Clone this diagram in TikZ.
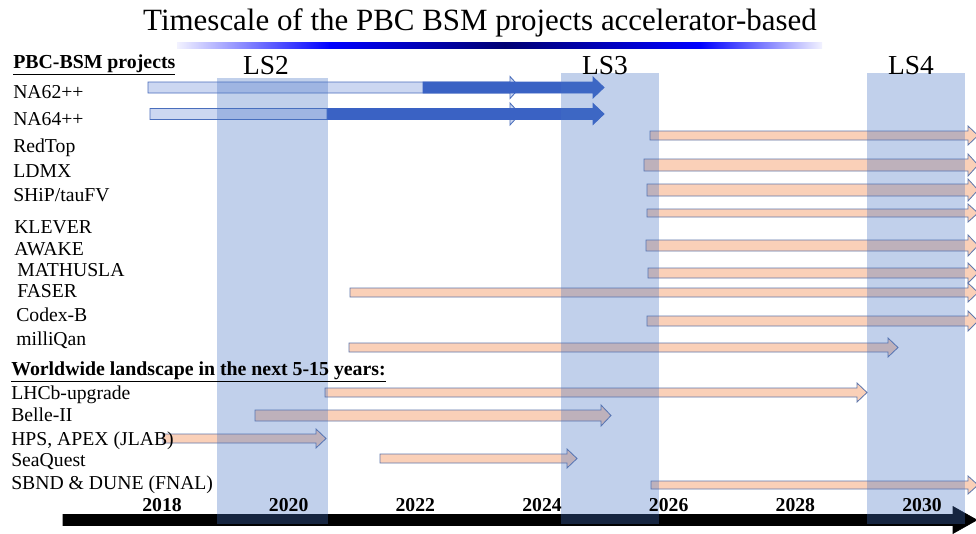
\documentclass[tikz,border=0pt]{standalone}
\usepackage{fontspec}
\setmainfont{Liberation Serif}
\usepackage{tikz}

\definecolor{bandblue}{RGB}{68,114,196}
\definecolor{peach}{RGB}{250,208,184}
\definecolor{peachline}{RGB}{98,120,172}
\definecolor{nalight}{RGB}{204,215,241}
\definecolor{nadark}{RGB}{58,98,196}
\definecolor{naline}{RGB}{74,110,188}
\definecolor{barnavy}{RGB}{0,0,115}

% block arrow: style, start x, tip x, y, half shaft, half head, head length
\newcommand{\barrow}[7][]{%
  \draw[#1] ({#2},{#4-(#5)}) -- ({#3-(#7)},{#4-(#5)}) -- ({#3-(#7)},{#4-(#6)}) -- ({#3},{#4})
    -- ({#3-(#7)},{#4+(#6)}) -- ({#3-(#7)},{#4+(#5)}) -- ({#2},{#4+(#5)}) -- cycle;}

\begin{document}
\begin{tikzpicture}[x=0.025cm, y=-0.025cm,
    projlabel/.style={anchor=base west, inner sep=0pt, font=\fontsize{14}{16}\selectfont},
    headlabel/.style={anchor=base west, inner sep=0pt, font=\fontsize{14.1}{16}\selectfont\bfseries},
    yearlabel/.style={anchor=base, inner sep=0pt, font=\fontsize{14}{16}\selectfont\bfseries},
    lslabel/.style={anchor=base, inner sep=0pt, font=\fontsize{19.5}{22}\selectfont},
    peacharrow/.style={fill=peach, draw=peachline, line width=0.6pt},
    nalightarrow/.style={fill=nalight, draw=naline, line width=0.6pt},
    nadarkarrow/.style={fill=nadark, draw=nadark, line width=0.6pt},
    lsband/.style={fill=bandblue, opacity=0.33}]

    \fill[white] (0,0) rectangle (976,534);
    \useasboundingbox (0,0) rectangle (976,534);

    \node[anchor=base, inner sep=0pt, font=\fontsize{22}{26}\selectfont] (title) at (480,30)
        {Timescale of the PBC BSM projects accelerator-based};
    \shade[left color=blue!5, right color=blue] (177,42) rectangle (330,48);
    \shade[left color=blue, right color=barnavy] (329.5,42) rectangle (505,48);
    \shade[left color=barnavy, right color=blue] (504.5,42) rectangle (700,48);
    \shade[left color=blue, right color=blue!5] (699.5,42) rectangle (822,48);

    % NA62++ and NA64++
    \barrow[nalightarrow]{148}{520}{87.5}{5.5}{11}{10}
    \barrow[nalightarrow]{150}{520}{114}{5.5}{11}{10}
    \barrow[nadarkarrow]{423}{604}{87.5}{5.5}{10.5}{11}
    \barrow[nadarkarrow]{327}{604}{114}{5.5}{10.5}{11}

    \foreach \s/\e/\y/\h in {650/978/135.5/4.5, 644/978/165/6, 647/978/190/6, 647/978/213/4,
        646/978/245.5/5.5, 648/978/273/5, 350/978/292.5/4.5, 647/978/321/5, 349/898/347.5/4.5,
        325/867/392.5/4.5, 255/611/415.5/5.5, 163/326/438.5/4.5, 380/577/458.5/4.5, 651/978/485/4}
        {\barrow[peacharrow]{\s}{\e}{\y}{\h}{\h+5}{10}}

    \barrow[fill=black]{63}{977}{520}{5.5}{13.5}{24}

    \fill[lsband] (217,78) rectangle (328,524);
    \fill[lsband] (561,73) rectangle (659,524);
    \fill[lsband] (867,73) rectangle (965,524);

    \node[lslabel] (ls2) at (266,74) {LS2};
    \node[lslabel] (ls3) at (605,74) {LS3};
    \node[lslabel] (ls4) at (911,74) {LS4};

    \node[headlabel] (pbchead) at (13,68) {\underline{PBC-BSM projects}};
    \node[headlabel] (wwhead) at (11,375) {\underline{Worldwide landscape in the next 5-15 years:}};

    \foreach \name/\xx/\yy [count=\i] in {NA62++/13/98, NA64++/13/125, RedTop/13/152,
        LDMX/13/177, {SHiP/tauFV}/13/201, KLEVER/14/233, AWAKE/14/255, MATHUSLA/17/276,
        FASER/17/297, Codex-B/16/321, milliQan/16/345}
        \node[projlabel] (pbc\i) at (\xx,\yy) {\name};

    \foreach \name/\yy [count=\i] in {LHCb-upgrade/399, Belle-II/421, {HPS, APEX (JLAB)}/445,
        SeaQuest/466, {SBND \& DUNE (FNAL)}/489}
        \node[projlabel] (ww\i) at (11,\yy) {\name};

    \foreach \yr [count=\i from 0] in {2018,2020,...,2030}
        \node[yearlabel] (yr\yr) at ({162+126.67*\i},511) {\yr};

\end{tikzpicture}
\end{document}
